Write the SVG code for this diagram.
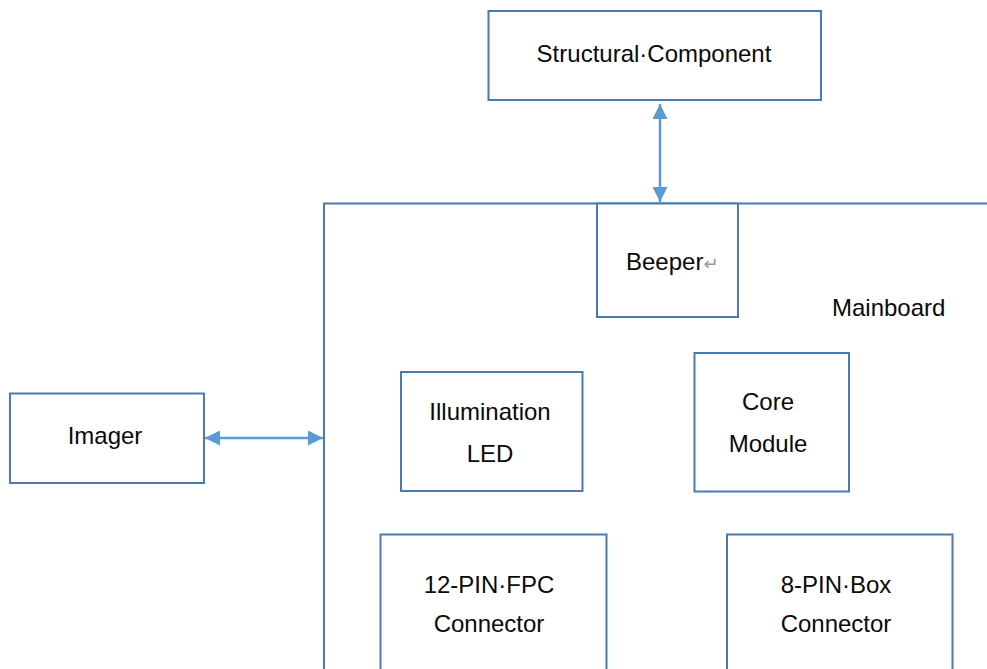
<svg xmlns="http://www.w3.org/2000/svg" width="987" height="669" viewBox="0 0 987 669">
<style>
.box{fill:#fff;stroke:#4a7ab0;stroke-width:2}
.lbl{font-family:"Liberation Sans",Arial,sans-serif;font-size:24px;fill:#0a0a0a}
.mid{text-anchor:middle}
.conn{stroke:#5b9bd5;stroke-width:2.5;fill:none}
.ah{fill:#5b9bd5}
</style>
<defs>
<marker id="arr" viewBox="0 0 15 15" refX="15" refY="7.5" markerWidth="15" markerHeight="15" markerUnits="userSpaceOnUse" orient="auto-start-reverse">
<path class="ah" d="M0,0 L15,7.5 L0,15 Z"/>
</marker>
</defs>
<rect width="987" height="669" fill="#fff"/>
<g id="mainboard">
<rect class="box" x="324" y="203.5" width="680" height="480"/>
<text class="lbl" x="832" y="316">Mainboard</text>
</g>
<g id="structural">
<rect class="box" x="488.5" y="11" width="332.5" height="89"/>
<text class="lbl mid" x="654" y="62">Structural·Component</text>
</g>
<g id="beeper">
<rect class="box" x="597" y="203.5" width="141" height="113.5"/>
<text class="lbl" x="626" y="270">Beeper<tspan style="font-family:'DejaVu Sans',sans-serif;font-size:18px;fill:#999">↵</tspan></text>
</g>
<g id="imager">
<rect class="box" x="10" y="393.5" width="194" height="89.5"/>
<text class="lbl mid" x="105" y="444">Imager</text>
</g>
<g id="illumination">
<rect class="box" x="401" y="372" width="181.5" height="119"/>
<text class="lbl mid" x="490" y="420">Illumination</text>
<text class="lbl mid" x="490" y="462">LED</text>
</g>
<g id="core">
<rect class="box" x="694.5" y="353" width="154.5" height="138.5"/>
<text class="lbl mid" x="768" y="410">Core</text>
<text class="lbl mid" x="768" y="452">Module</text>
</g>
<g id="fpc">
<rect class="box" x="380.5" y="534.5" width="226" height="150"/>
<text class="lbl mid" x="489" y="593">12-PIN·FPC</text>
<text class="lbl mid" x="489" y="632">Connector</text>
</g>
<g id="box8">
<rect class="box" x="727" y="534.5" width="225.5" height="150"/>
<text class="lbl mid" x="836" y="593">8-PIN·Box</text>
<text class="lbl mid" x="836" y="632">Connector</text>
</g>
<g id="connectors">
<line class="conn" x1="660" y1="104" x2="660" y2="202" marker-start="url(#arr)" marker-end="url(#arr)"/>
<line class="conn" x1="205" y1="438" x2="323" y2="438" marker-start="url(#arr)" marker-end="url(#arr)"/>
</g>
</svg>
